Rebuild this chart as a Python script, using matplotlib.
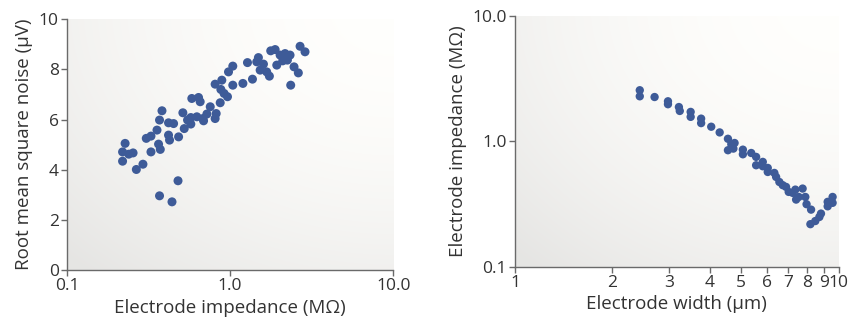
import numpy as np
import matplotlib
matplotlib.use("Agg")
import matplotlib.pyplot as plt
from matplotlib.ticker import FixedLocator, FixedFormatter, NullLocator

plt.rcParams['font.family'] = ['Open Sans', 'DejaVu Sans']

# Left panel: impedance (MOhm) vs RMS noise (uV)
imp_left = [0.219, 0.219, 0.227, 0.239, 0.254, 0.266, 0.292, 0.306, 0.327, 0.327,
            0.356, 0.369, 0.382, 0.364, 0.373, 0.369, 0.419, 0.419, 0.425, 0.450,
            0.483, 0.440, 0.479, 0.513, 0.523, 0.574, 0.582, 0.574, 0.625, 0.640,
            0.655, 0.680, 0.687, 0.720, 0.755, 0.809, 0.821, 0.809, 0.869, 0.877,
            0.889, 0.918, 0.963, 0.977, 1.038, 1.038, 1.197, 1.277, 1.370, 1.456,
            1.490, 1.600, 1.527, 1.675, 1.740, 1.773, 1.887, 1.931, 2.024, 2.100,
            2.171, 2.244, 2.329, 2.351, 2.464, 2.618, 2.683, 2.877, 0.548]
noise = [4.34, 4.71, 5.05, 4.62, 4.67, 4.01, 4.22, 5.25, 5.34, 4.71,
         5.58, 5.98, 6.35, 5.02, 4.81, 2.96, 5.87, 5.38, 5.18, 5.84,
         5.31, 2.72, 3.56, 6.27, 5.64, 5.82, 6.84, 6.08, 6.11, 6.88,
         6.71, 6.04, 5.95, 6.22, 6.51, 6.04, 6.24, 7.41, 6.67, 7.20,
         7.57, 7.04, 6.91, 7.90, 8.13, 7.37, 7.44, 8.27, 7.61, 8.30,
         8.47, 8.21, 7.97, 7.90, 7.73, 8.74, 8.79, 8.17, 8.57, 8.34,
         8.63, 8.37, 8.57, 7.37, 8.10, 7.86, 8.92, 8.70, 5.98]

# Right panel: electrode width (um) vs impedance (MOhm)
width = [2.43, 2.43, 2.70, 2.97, 2.97, 3.21, 3.23, 3.49, 3.49, 3.76,
         3.76, 4.04, 4.29, 4.55, 4.55, 4.66, 4.77, 4.73, 5.06, 5.06,
         5.37, 5.56, 5.56, 5.83, 5.83, 6.04, 6.04, 6.33, 6.41, 6.56,
         6.72, 6.88, 7.01, 7.21, 7.35, 7.39, 7.53, 7.74, 7.89, 7.96,
         8.22, 8.18, 8.47, 8.72, 8.82, 9.25, 9.25, 9.58, 9.58]
imp_right = [2.56, 2.29, 2.26, 2.09, 1.98, 1.88, 1.75, 1.72, 1.57, 1.52,
             1.40, 1.31, 1.18, 1.05, 0.851, 0.949, 0.972, 0.877, 0.860, 0.790,
             0.809, 0.753, 0.646, 0.687, 0.634, 0.615, 0.571, 0.561, 0.521, 0.475,
             0.448, 0.434, 0.396, 0.389, 0.413, 0.344, 0.361, 0.421, 0.361, 0.316,
             0.286, 0.219, 0.232, 0.250, 0.266, 0.330, 0.304, 0.361, 0.324]

dot = '#3e5b98'
txt = '#333333'
spine = '#6a6a6a'


def shade(ax):
    # soft grey-to-white radial wash behind the points
    yy, xx = np.mgrid[0:1:200j, 0:1:200j]
    r = np.sqrt((xx - 1.0) ** 2 + (yy - 1.05) ** 2) / np.sqrt(2)
    g = 1.0 - 0.10 * np.clip(r, 0, 1) ** 2
    img = np.dstack([g, g * 0.998, g * 0.99])
    ax.imshow(img, extent=(0, 1, 0, 1), transform=ax.transAxes, origin='lower',
              aspect='auto', zorder=0, interpolation='bilinear')


def style(ax):
    for s in ['top', 'right']:
        ax.spines[s].set_visible(False)
    for s in ['left', 'bottom']:
        ax.spines[s].set_color(spine)
        ax.spines[s].set_linewidth(1.0)
    ax.tick_params(which='major', direction='out', length=4, width=1.0,
                   color=spine, labelcolor=txt, labelsize=12.5, pad=2)
    ax.xaxis.set_minor_locator(NullLocator())
    ax.yaxis.set_minor_locator(NullLocator())


fig = plt.figure(figsize=(8.54, 3.2), dpi=100)

ax1 = fig.add_axes([0.0785, 0.156, 0.382, 0.784])
shade(ax1)
ax1.scatter(imp_left, noise, s=42, color=dot, edgecolors='none', zorder=3)
ax1.set_xscale('log')
ax1.set_xlim(0.1, 10)
ax1.set_ylim(0, 10)
style(ax1)
ax1.xaxis.set_major_locator(FixedLocator([0.1, 1, 10]))
ax1.xaxis.set_major_formatter(FixedFormatter(['0.1', '1.0', '10.0']))
ax1.set_yticks([0, 2, 4, 6, 8, 10])
ax1.set_xlabel('Electrode impedance (MΩ)', fontsize=13.5, color=txt, labelpad=3)
ax1.set_ylabel('Root mean square noise (µV)', fontsize=13.5, color=txt, labelpad=4)

ax2 = fig.add_axes([0.603, 0.166, 0.379, 0.784])
shade(ax2)
ax2.scatter(width, imp_right, s=36, color=dot, edgecolors='none', zorder=3)
ax2.set_xscale('log')
ax2.set_yscale('log')
ax2.set_xlim(1, 10)
ax2.set_ylim(0.1, 10)
style(ax2)
ax2.xaxis.set_major_locator(FixedLocator(list(range(1, 11))))
ax2.xaxis.set_major_formatter(FixedFormatter([str(i) for i in range(1, 11)]))
ax2.yaxis.set_major_locator(FixedLocator([0.1, 1, 10]))
ax2.yaxis.set_major_formatter(FixedFormatter(['0.1', '1.0', '10.0']))
ax2.set_xlabel('Electrode width (µm)', fontsize=13.5, color=txt, labelpad=3)
ax2.set_ylabel('Electrode impedance (MΩ)', fontsize=13.5, color=txt, labelpad=4)

fig.savefig('out.png', dpi=100)
